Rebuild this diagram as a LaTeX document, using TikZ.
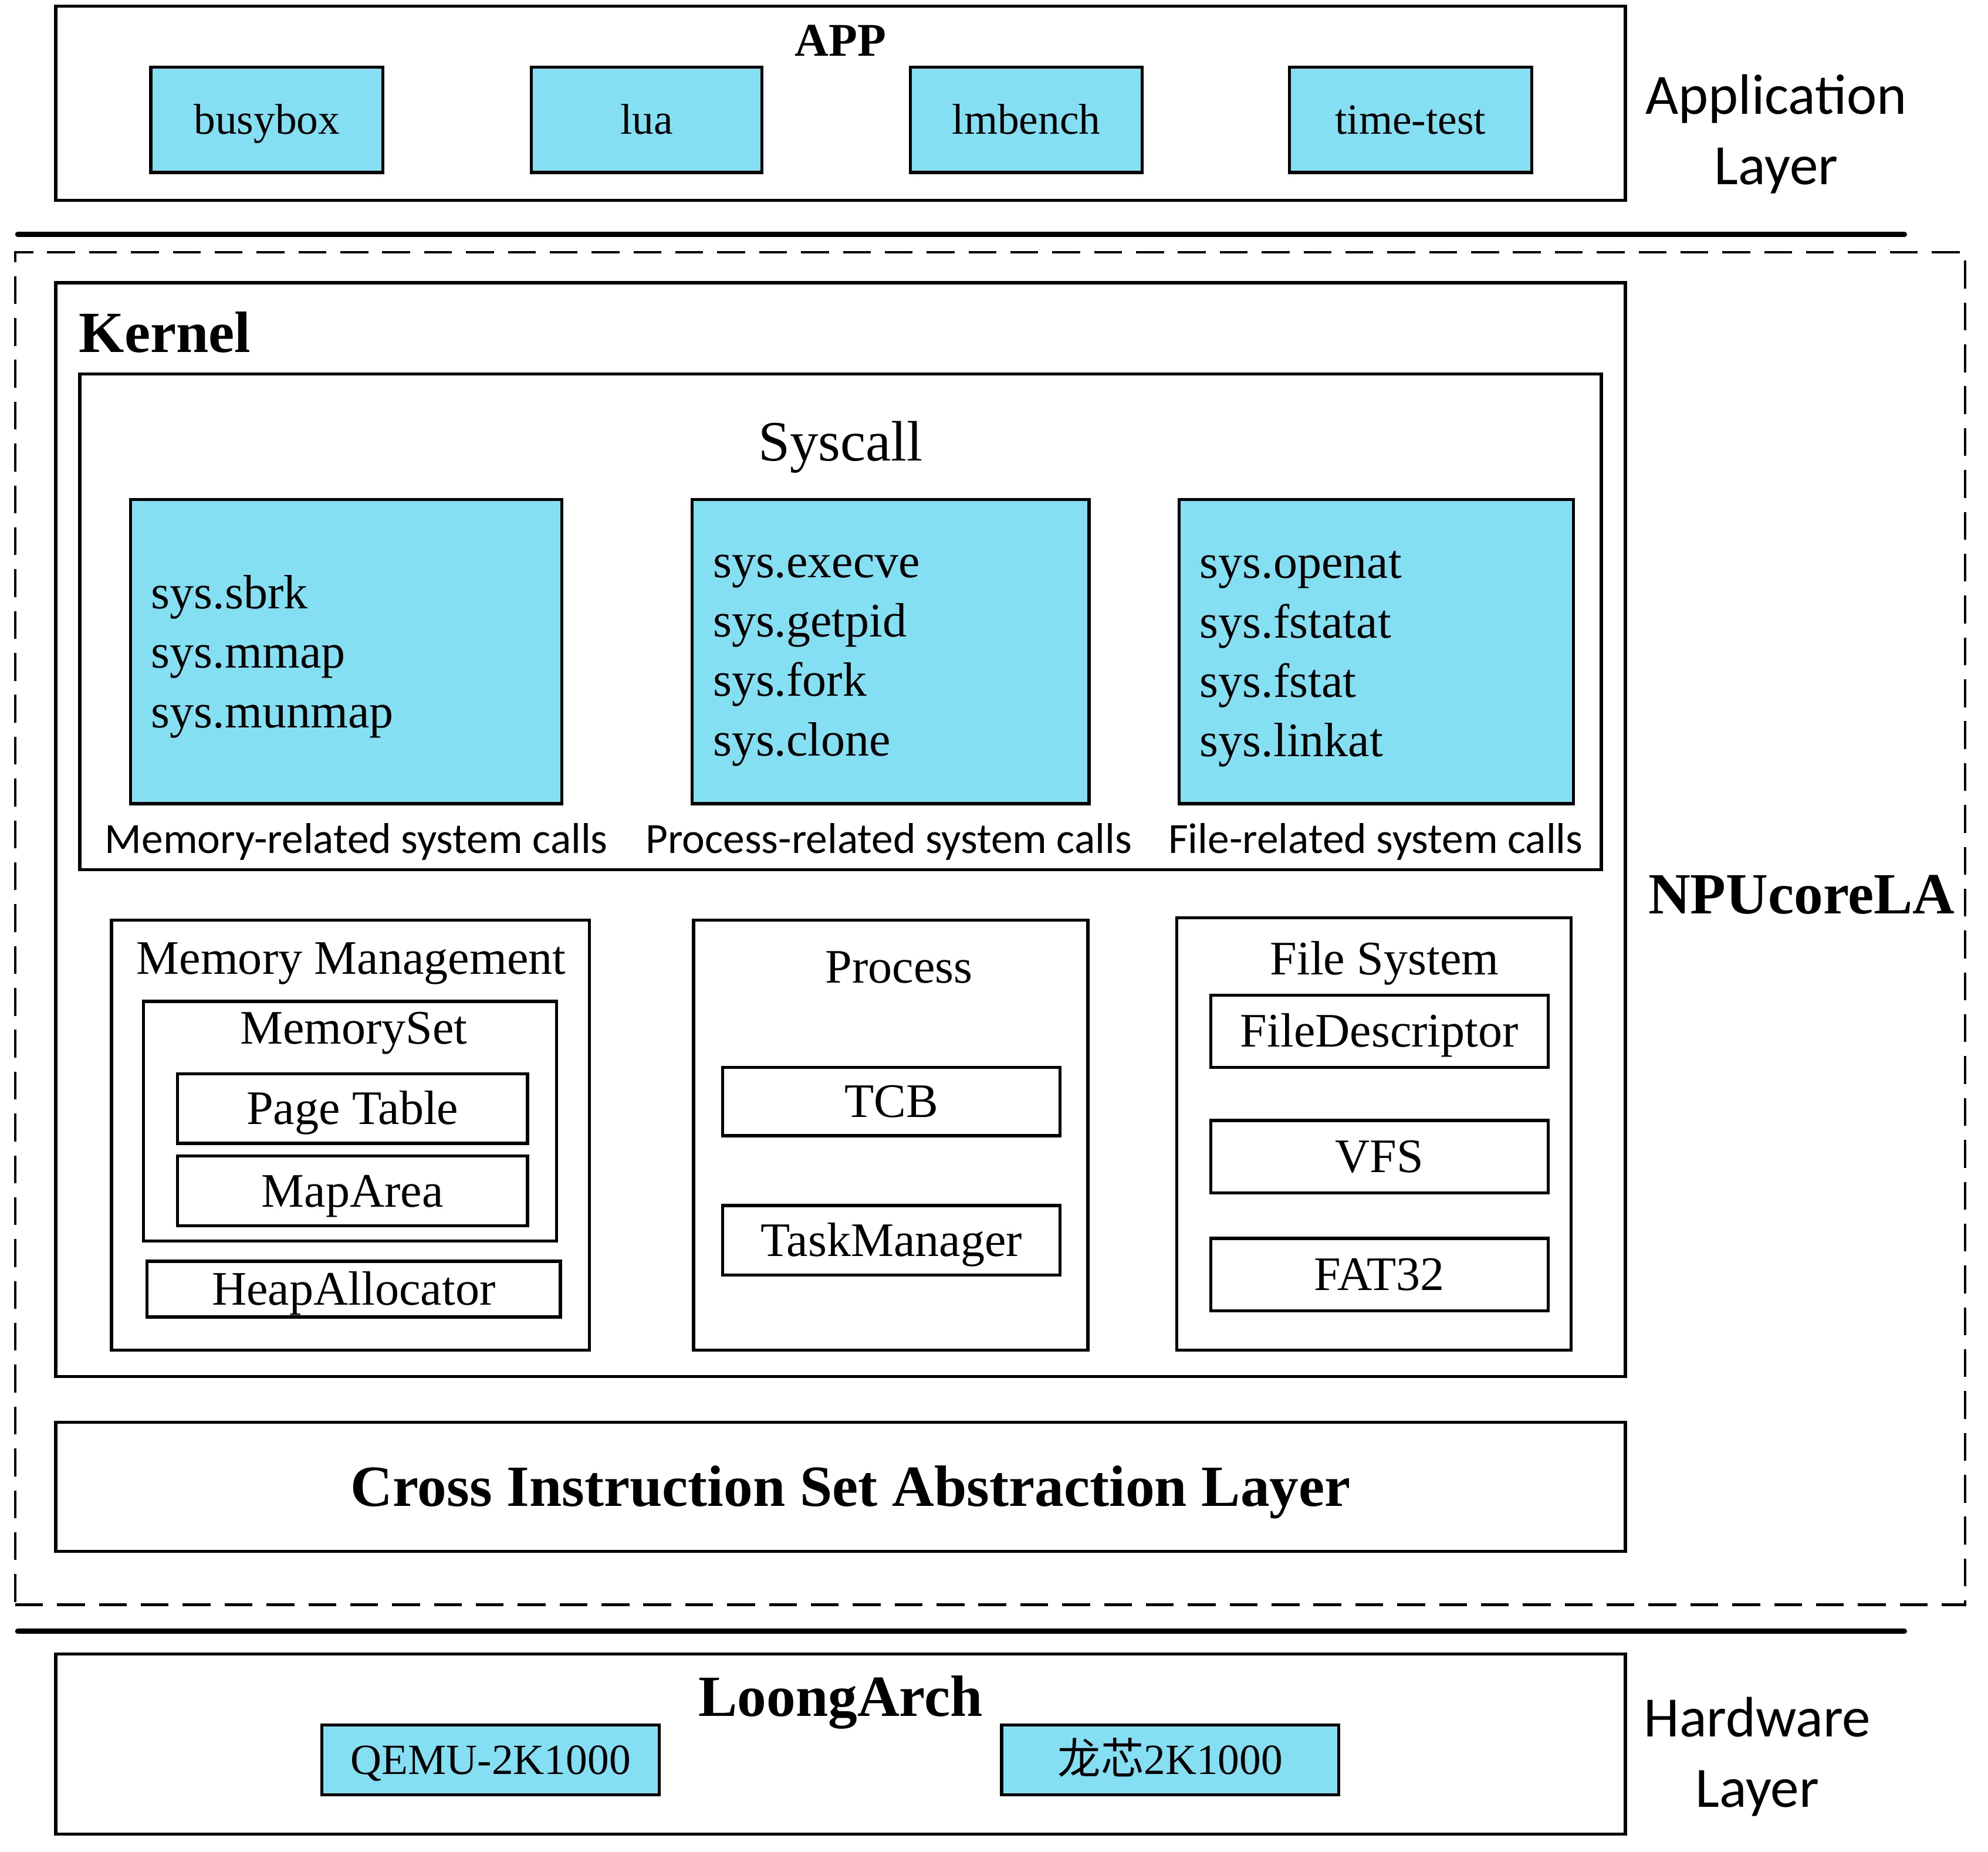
\documentclass[tikz,border=0pt]{standalone}
\usepackage{fontspec}
\setmainfont{Liberation Serif}
\newfontfamily\calfont{Carlito}
\newfontfamily\cjkfont{Noto Sans CJK SC}
\usetikzlibrary{fit}
\definecolor{cyanfill}{RGB}{133,223,243}
\newcommand\fsA{\fontsize{19.35pt}{23pt}\selectfont}
\newcommand\fsB{\fontsize{21.62pt}{26.7pt}\selectfont}
\newcommand\fsC{\fontsize{25.6pt}{31.6pt}\selectfont}
\newcommand\fsD{\fontsize{26.18pt}{31pt}\selectfont\bfseries}
\newcommand\fsE{\fontsize{21.05pt}{25pt}\selectfont\bfseries}
\tikzset{
  box/.style={draw, line width=1.4pt, inner sep=0pt},
  bluebox/.style={box, fill=cyanfill},
  lbl/.style={inner sep=0pt},
  txtA/.style={inner sep=0pt, font=\fsA, text height=12.8pt, text depth=0pt},
  txtB/.style={inner sep=0pt, font=\fsB, text height=14.3pt, text depth=0pt},
  txtD/.style={inner sep=0pt, font=\fsD, text height=17.3pt, text depth=0pt},
  rule/.style={line width=2.4pt, line cap=round},
  dashbox/.style={draw, line width=1.2pt, dash pattern=on 12.5pt off 6.3pt, inner sep=0pt}
}
\begin{document}
\begin{tikzpicture}[x=0.02cm,y=-0.02cm]
\useasboundingbox (0,0) rectangle (1568,1461);

% Application layer
\node[box, fit={(44,5) (1282,158)}] (app) {};
\node[lbl, font=\fsE] (apptitle) at (663,32) {APP};
\node[bluebox, fit={(119,53) (302,136)}] (busybox) {};
\node[bluebox, fit={(419,53) (601,136)}] (lua) {};
\node[bluebox, fit={(718,53) (901,136)}] (lmbench) {};
\node[bluebox, fit={(1017,53) (1208,136)}] (timetest) {};
\node[txtA] at (busybox.center) {busybox};
\node[txtA] at (lua.center) {lua};
\node[txtA] at (lmbench.center) {lmbench};
\node[txtA] at (timetest.center) {time-test};
\node[lbl, align=center, font={\calfont\fsC}] (applayer) at (1401,106) {Application\\Layer};

% separators
\coordinate (r1a) at (14,185);
\coordinate (r1b) at (1502,185);
\draw[rule] (r1a) -- (r1b);
\coordinate (r2a) at (14,1287);
\coordinate (r2b) at (1502,1287);
\draw[rule] (r2a) -- (r2b);

% NPUcoreLA dashed region
\node[dashbox, fit={(12,199) (1550,1266)}] (npu) {};
\node[lbl, font=\fsD] (npulabel) at (1421,706) {NPUcoreLA};

% Kernel
\node[box, fit={(44,223) (1282,1086)}] (kernel) {};
\node[lbl, font=\fsD, anchor=west] (kerneltitle) at (62,262) {Kernel};

% Syscall
\node[box, fit={(63,295) (1263,686)}] (syscall) {};
\node[lbl, font=\fsC] (syscalltitle) at (663,353) {Syscall};
\node[bluebox, fit={(103,394) (443,634)}] (memsys) {};
\node[bluebox, fit={(546,394) (859,634)}] (procsys) {};
\node[bluebox, fit={(930,394) (1241,634)}] (filesys) {};
\node[lbl, anchor=west, align=left, font=\fsB] (memlist) at (119,518) {sys.sbrk\\sys.mmap\\sys.munmap};
\node[lbl, anchor=west, align=left, font=\fsB] (proclist) at (562,521) {sys.execve\\sys.getpid\\sys.fork\\sys.clone};
\node[lbl, anchor=west, align=left, font=\fsB] (filelist) at (946,520) {sys.openat\\sys.fstatat\\sys.fstat\\sys.linkat};
\node[lbl, font={\calfont\fsA}] (memcap) at (281,664) {Memory-related system calls};
\node[lbl, font={\calfont\fsA}] (proccap) at (701,664) {Process-related system calls};
\node[lbl, font={\calfont\fsA}] (filecap) at (1085,664) {File-related system calls};

% Memory management
\node[box, fit={(88,726) (465,1065)}] (mm) {};
\node[lbl, font=\fsB] (mmtitle) at (277,760) {Memory Management};
\node[box, fit={(113,790) (439,979)}] (memset) {};
\node[lbl, font=\fsB] (memsettitle) at (279,815) {MemorySet};
\node[box, fit={(140,847) (416,902)}] (pagetable) {};
\node[box, fit={(140,912) (416,967)}] (maparea) {};
\node[box, fit={(116,995) (442,1039)}] (heap) {};
\node[txtB] at (pagetable.center) {Page Table};
\node[txtB] at (maparea.center) {MapArea};
\node[txtB] at (heap.center) {HeapAllocator};

% Process
\node[box, fit={(547,726) (858,1065)}] (process) {};
\node[lbl, font=\fsB] (processtitle) at (709,763) {Process};
\node[box, fit={(570,842) (836,896)}] (tcb) {};
\node[box, fit={(570,951) (836,1006)}] (taskmgr) {};
\node[txtB] at (tcb.center) {TCB};
\node[txtB] at (taskmgr.center) {TaskManager};

% File system
\node[box, fit={(928,724) (1239,1065)}] (fs) {};
\node[lbl, font=\fsB] (fstitle) at (1092,760) {File System};
\node[box, fit={(955,785) (1221,842)}] (fd) {};
\node[box, fit={(955,884) (1221,941)}] (vfs) {};
\node[box, fit={(955,977) (1221,1034)}] (fat) {};
\node[txtB] at (fd.center) {FileDescriptor};
\node[txtB] at (vfs.center) {VFS};
\node[txtB] at (fat.center) {FAT32};

% Cross ISA layer
\node[box, fit={(44,1122) (1282,1224)}] (cross) {};
\node[txtD] at ([xshift=0.16cm]cross.center) {Cross Instruction Set Abstraction Layer};

% Hardware
\node[box, fit={(44,1305) (1282,1447)}] (loong) {};
\node[lbl, font=\fsD] (loongtitle) at (663,1343) {LoongArch};
\node[bluebox, fit={(254,1361) (520,1416)}] (qemu) {};
\node[bluebox, fit={(790,1361) (1056,1416)}] (board) {};
\node[txtA] at (qemu.center) {QEMU-2K1000};
\node[txtA] at (board.center) {{\cjkfont 龙芯}2K1000};
\node[lbl, align=center, font={\calfont\fsC}] (hwlayer) at (1386,1386) {Hardware\\Layer};
\end{tikzpicture}
\end{document}
